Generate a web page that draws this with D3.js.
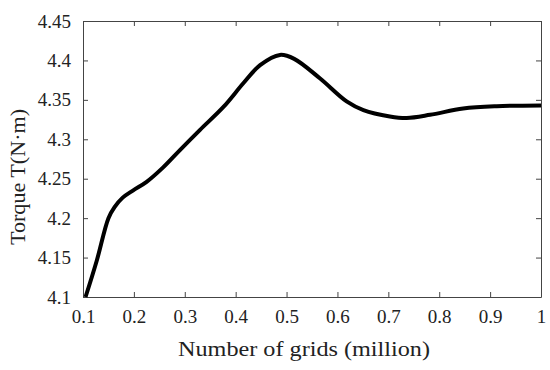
<!DOCTYPE html>
<html>
<head>
<meta charset="utf-8">
<script src="https://cdn.jsdelivr.net/npm/d3@7"></script>
<style>
  body { margin: 0; background: #fff; }
</style>
</head>
<body>
<div id="chart"></div>
<script>
// grids (million) vs torque (N·m)
var grids  = [0.105, 0.127, 0.150, 0.162, 0.178, 0.198, 0.225, 0.257, 0.29, 0.33, 0.376, 0.415, 0.448, 0.487, 0.515, 0.566, 0.618, 0.651, 0.703, 0.736, 0.782, 0.847, 0.913, 1.0];
var torque = [4.100, 4.146, 4.200, 4.214, 4.226, 4.235, 4.246, 4.264, 4.286, 4.312, 4.341, 4.371, 4.394, 4.407, 4.402, 4.377, 4.348, 4.337, 4.329, 4.327, 4.331, 4.339, 4.342, 4.343];
var xTicks = [0.1, 0.2, 0.3, 0.4, 0.5, 0.6, 0.7, 0.8, 0.9, 1];
var yTicks = [4.1, 4.15, 4.2, 4.25, 4.3, 4.35, 4.4, 4.45];

var width = 550, height = 370;
var margin = {top: 21, right: 9, bottom: 73, left: 83};
var serif = '"Liberation Serif", "Times New Roman", serif';

var svg = d3.select('#chart')
	.append('svg')
	.attr('width', width)
	.attr('height', height);

var x = d3.scaleLinear().domain([0.1, 1]).range([margin.left, width - margin.right]);
var y = d3.scaleLinear().domain([4.1, 4.45]).range([height - margin.bottom, margin.top]);

var fmt = function(d) { return d3.format('~g')(d); };
var axisColor = '#444';

// bottom + top
svg.append('g')
	.attr('transform', 'translate(0,' + (height - margin.bottom) + ')')
	.call(d3.axisBottom(x).tickValues(xTicks).tickSizeInner(-5).tickSizeOuter(0).tickPadding(13).tickFormat(fmt));
svg.append('g')
	.attr('transform', 'translate(0,' + margin.top + ')')
	.call(d3.axisTop(x).tickValues(xTicks).tickSizeInner(-5).tickSizeOuter(0).tickFormat(''));
// left + right
svg.append('g')
	.attr('transform', 'translate(' + margin.left + ',0)')
	.call(d3.axisLeft(y).tickValues(yTicks).tickSizeInner(-5).tickSizeOuter(0).tickPadding(12).tickFormat(fmt));
svg.append('g')
	.attr('transform', 'translate(' + (width - margin.right) + ',0)')
	.call(d3.axisRight(y).tickValues(yTicks).tickSizeInner(-5).tickSizeOuter(0).tickFormat(''));

svg.selectAll('.domain, .tick line').attr('stroke', axisColor).attr('stroke-width', 1);
svg.selectAll('g').attr('font-family', serif);
svg.selectAll('.tick text')
	.attr('fill', '#222')
	.style('font-family', serif)
	.style('font-size', '19px');

var line = d3.line()
	.x(function(d, i) { return x(grids[i]); })
	.y(function(d, i) { return y(d); })
	.curve(d3.curveCatmullRom.alpha(0.5));

svg.append('path')
	.datum(torque)
	.attr('d', line)
	.attr('fill', 'none')
	.attr('stroke', '#000')
	.attr('stroke-width', 4)
	.attr('stroke-linejoin', 'round');

svg.append('text')
	.attr('x', (margin.left + width - margin.right) / 2 - 8)
	.attr('y', 356)
	.attr('text-anchor', 'middle')
	.attr('fill', '#222')
	.attr('textLength', 252)
	.attr('lengthAdjust', 'spacingAndGlyphs')
	.style('font-family', serif)
	.style('font-size', '22px')
	.text('Number of grids (million)');

svg.append('text')
	.attr('transform', 'translate(25,' + ((margin.top + height - margin.bottom) / 2 + 18) + ') rotate(-90)')
	.attr('text-anchor', 'middle')
	.attr('fill', '#222')
	.attr('textLength', 136)
	.attr('lengthAdjust', 'spacingAndGlyphs')
	.style('font-family', serif)
	.style('font-size', '22px')
	.text('Torque T(N·m)');
</script>
</body>
</html>
